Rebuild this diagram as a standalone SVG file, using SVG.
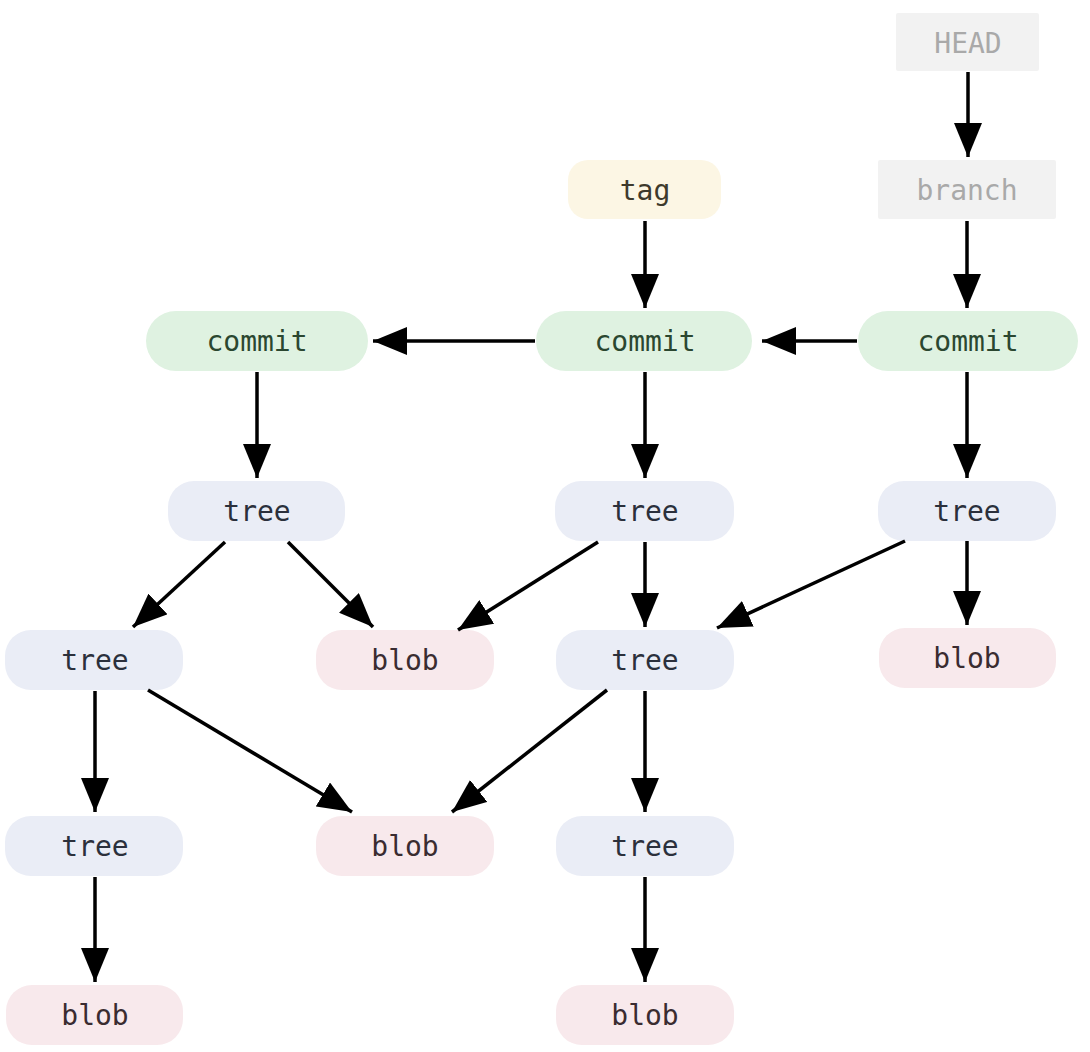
<svg xmlns="http://www.w3.org/2000/svg" width="1090" height="1052" viewBox="0 0 1090 1052">
<defs>
<marker id="ah" viewBox="0 0 34 28" refX="34" refY="14" markerWidth="34" markerHeight="28" markerUnits="userSpaceOnUse" orient="auto">
<path d="M0,0 L34,14 L0,28 z" fill="#000"/>
</marker>
</defs>
<style>
text{font-family:"DejaVu Sans Mono","Liberation Mono",monospace;font-size:28px;text-anchor:middle;dominant-baseline:central}
.ref rect{fill:#f2f2f2}
.ref text{fill:#a9a9a9}
.tag rect{fill:#fcf6e4}
.tag text{fill:#3e3a2c}
.commit rect{fill:#dff2e1}
.commit text{fill:#2b4730}
.tree rect{fill:#eaedf6}
.tree text{fill:#2b303c}
.blob rect{fill:#f8e9ec}
.blob text{fill:#3a2c31}
.edges line{stroke:#000;stroke-width:3.5;marker-end:url(#ah)}
</style>
<rect width="1090" height="1052" fill="#fff"/>
<g id="head" class="ref"><rect x="896" y="13" width="143" height="58" rx="2"/><text x="968" y="43">HEAD</text></g>
<g id="branch" class="ref"><rect x="878" y="160" width="178" height="59" rx="2"/><text x="967" y="190">branch</text></g>
<g id="tag" class="tag"><rect x="568" y="160" width="153" height="59" rx="20"/><text x="645" y="190">tag</text></g>
<g id="commit1" class="commit"><rect x="146" y="311" width="222" height="60" rx="30"/><text x="257" y="341">commit</text></g>
<g id="commit2" class="commit"><rect x="536" y="311" width="216" height="60" rx="30"/><text x="645" y="341">commit</text></g>
<g id="commit3" class="commit"><rect x="858" y="311" width="220" height="60" rx="30"/><text x="968" y="341">commit</text></g>
<g id="tree1" class="tree"><rect x="168" y="481" width="177" height="60" rx="26"/><text x="257" y="511">tree</text></g>
<g id="tree2" class="tree"><rect x="555" y="481" width="179" height="60" rx="26"/><text x="645" y="511">tree</text></g>
<g id="tree3" class="tree"><rect x="878" y="481" width="178" height="60" rx="26"/><text x="967" y="511">tree</text></g>
<g id="tree4" class="tree"><rect x="5" y="630" width="178" height="60" rx="26"/><text x="95" y="660">tree</text></g>
<g id="blob1" class="blob"><rect x="316" y="630" width="178" height="60" rx="26"/><text x="405" y="660">blob</text></g>
<g id="tree5" class="tree"><rect x="556" y="630" width="178" height="60" rx="26"/><text x="645" y="660">tree</text></g>
<g id="blob2" class="blob"><rect x="879" y="628" width="177" height="60" rx="26"/><text x="967" y="658">blob</text></g>
<g id="tree6" class="tree"><rect x="5" y="816" width="178" height="60" rx="26"/><text x="95" y="846">tree</text></g>
<g id="blob3" class="blob"><rect x="316" y="816" width="178" height="60" rx="26"/><text x="405" y="846">blob</text></g>
<g id="tree7" class="tree"><rect x="556" y="816" width="178" height="60" rx="26"/><text x="645" y="846">tree</text></g>
<g id="blob4" class="blob"><rect x="6" y="985" width="177" height="60" rx="26"/><text x="95" y="1015">blob</text></g>
<g id="blob5" class="blob"><rect x="556" y="985" width="178" height="60" rx="26"/><text x="645" y="1015">blob</text></g>
<g id="connectors" class="edges">
<line x1="968" y1="72" x2="968" y2="157"/>
<line x1="967" y1="221" x2="967" y2="308"/>
<line x1="645" y1="221" x2="645" y2="308"/>
<line x1="857" y1="341" x2="762" y2="341"/>
<line x1="535" y1="341" x2="373" y2="341"/>
<line x1="257" y1="372" x2="257" y2="478"/>
<line x1="645" y1="372" x2="645" y2="478"/>
<line x1="967" y1="372" x2="967" y2="478"/>
<line x1="225" y1="542" x2="133" y2="627"/>
<line x1="288" y1="542" x2="373" y2="627"/>
<line x1="598" y1="542" x2="458" y2="630"/>
<line x1="645" y1="542" x2="645" y2="627"/>
<line x1="905" y1="541" x2="717" y2="628"/>
<line x1="967" y1="541" x2="967" y2="625"/>
<line x1="95" y1="691" x2="95" y2="812"/>
<line x1="148" y1="690" x2="352" y2="812"/>
<line x1="607" y1="690" x2="452" y2="812"/>
<line x1="645" y1="691" x2="645" y2="812"/>
<line x1="95" y1="877" x2="95" y2="982"/>
<line x1="645" y1="877" x2="645" y2="982"/>
</g>
</svg>
